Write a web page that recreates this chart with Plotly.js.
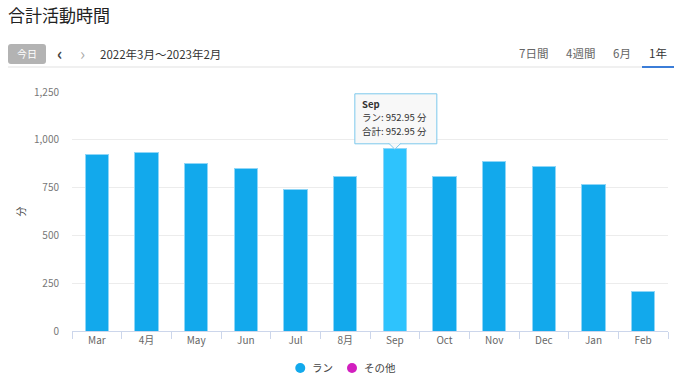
<!DOCTYPE html>
<html><head><meta charset="utf-8">
<script src="https://cdn.plot.ly/plotly-3.0.1.min.js"></script>
<style>
body{margin:0;width:680px;height:377px;overflow:hidden;background:#fff;font-family:"Noto Sans CJK JP","Noto Sans",sans-serif;position:relative}
#chart{position:absolute;left:0;top:0;width:680px;height:377px}
.h{position:absolute;white-space:nowrap}
</style></head><body>
<div id="chart"></div>
<div class="h" style="left:8px;top:2px;font-size:17px;color:#222;">合計活動時間</div>
<div class="h" style="left:8px;top:44px;width:38px;height:20px;background:#b3b3b3;border-radius:3px;color:#fff;font-size:10px;line-height:20px;text-align:center;">今日</div>
<div class="h" style="left:57px;top:40px;font-size:17px;color:#444;font-weight:bold;">&#x2039;</div>
<div class="h" style="left:80px;top:40px;font-size:17px;color:#aaa;">&#x203A;</div>
<div class="h" style="left:100px;top:46px;font-size:11.5px;color:#333;">2022年3月～2023年2月</div>
<div class="h" style="left:519px;top:45px;font-size:11.5px;color:#666;">7日間</div>
<div class="h" style="left:566px;top:45px;font-size:11.5px;color:#666;">4週間</div>
<div class="h" style="left:613px;top:45px;font-size:11.5px;color:#666;">6月</div>
<div class="h" style="left:649px;top:45px;font-size:11.5px;color:#333;">1年</div>
<div class="h" style="left:8px;top:66px;width:664px;height:2px;background:#f0f0f0;"></div>
<div class="h" style="left:642px;top:66px;width:32px;height:2px;background:#3b7dd8;"></div>
<script>
const months = ["Mar","4月","May","Jun","Jul","8月","Sep","Oct","Nov","Dec","Jan","Feb"];
const runMinutes = [924, 933, 877, 848, 740, 810, 952.95, 810, 885, 862, 766, 205];
const otherMinutes = [0, 0, 0, 0, 0, 0, 0, 0, 0, 0, 0, 0];
const seriesNames = ["ラン", "その他"];
const yTicks = [0, 250, 500, 750, 1000, 1250];
const yTickText = ["0", "250", "500", "750", "1,000", "1,250"];
const hoverIndex = 6;

const runColor = "#12a9ec", hoverColor = "#2ec3fd", otherColor = "#d21fbf";
const seriesColors = [runColor, otherColor];
const font = "Noto Sans CJK JP, Noto Sans, sans-serif";
const hv = runMinutes[hoverIndex], hm = months[hoverIndex];

const traces = [
  {type:"bar", x:months, y:runMinutes, name:seriesNames[0], showlegend:false,
   marker:{color:runMinutes.map((v,i)=> i===hoverIndex?hoverColor:runColor), line:{color:"#8fd6f7", width:1}},
   width:0.47, hoverinfo:"skip"},
  {type:"bar", x:months, y:otherMinutes, name:seriesNames[1], showlegend:false,
   marker:{color:otherColor}, width:0.47, hoverinfo:"skip"}
];

const tipLine = (txt, ys, bold) => ({
  x:hm, y:hv, xref:"x", yref:"y", text: bold?"<b>"+txt+"</b>":txt,
  showarrow:false, xanchor:"left", yanchor:"middle", xshift:-34, yshift:ys, borderpad:0,
  font:{size:9.5, color:"#333", family:font}
});

// custom legend (circle + label), positioned in paper coords below plot
const legX = [0.383, 0.4698];   // paper x of circle centers
const legY = -0.1548;
const legendShapes = seriesNames.map((n,i)=>({
  type:"circle", xref:"paper", yref:"paper", xsizemode:"pixel", ysizemode:"pixel",
  xanchor:legX[i], yanchor:legY, x0:-5, x1:5, y0:-5, y1:5,
  fillcolor:seriesColors[i], line:{width:0}
}));
const legendTexts = seriesNames.map((n,i)=>({
  x:legX[i], y:legY, xref:"paper", yref:"paper", text:n, showarrow:false,
  xanchor:"left", yanchor:"middle", xshift:10, font:{size:10.5, color:"#444", family:font}
}));

const layout = {
  width:680, height:377,
  margin:{l:72, r:12, t:92, b:46, autoexpand:false},
  paper_bgcolor:"rgba(0,0,0,0)", plot_bgcolor:"#fff",
  barmode:"stack", bargap:0.53, showlegend:false,
  font:{family:font, size:10, color:"#666"},
  xaxis:{type:"category", tickson:"boundaries", ticks:"outside", ticklen:7, tickcolor:"#ccd6eb",
         showline:true, linecolor:"#ccd6eb", linewidth:1, showgrid:false, fixedrange:true, automargin:false,
         tickfont:{size:10, color:"#666"}},
  yaxis:{range:[0,1250], tickvals:yTicks, ticktext:yTickText, showgrid:true, gridcolor:"#ececec",
         zeroline:false, showline:false, ticks:"", ticklabelstandoff:12, automargin:false,
         tickfont:{size:10, color:"#777"},
         title:{text:"分", font:{size:10, color:"#444"}, standoff:6}},
  annotations:[
    tipLine(hm, 45, true),
    tipLine("ラン: "+hv.toFixed(2)+" 分", 31.5, false),
    tipLine("合計: "+hv.toFixed(2)+" 分", 18, false),
    ...legendTexts
  ],
  shapes:[
    {type:"rect", xref:"x", yref:"y", xsizemode:"pixel", ysizemode:"pixel",
     xanchor:hoverIndex, yanchor:hv, x0:-40, x1:42, y0:5, y1:55,
     fillcolor:"rgba(248,248,248,0.97)", line:{color:"#7cc8ec", width:1}, layer:"above"},
    {type:"path", xref:"x", yref:"y", xsizemode:"pixel", ysizemode:"pixel",
     xanchor:hoverIndex, yanchor:hv, path:"M -6 5.5 L 0 -0.5 L 6 5.5",
     fillcolor:"rgba(248,248,248,1)", line:{color:"#7cc8ec", width:1}, layer:"above"},
    ...legendShapes
  ]
};
Plotly.newPlot("chart", traces, layout, {displayModeBar:false, staticPlot:true});
</script>
</body></html>
